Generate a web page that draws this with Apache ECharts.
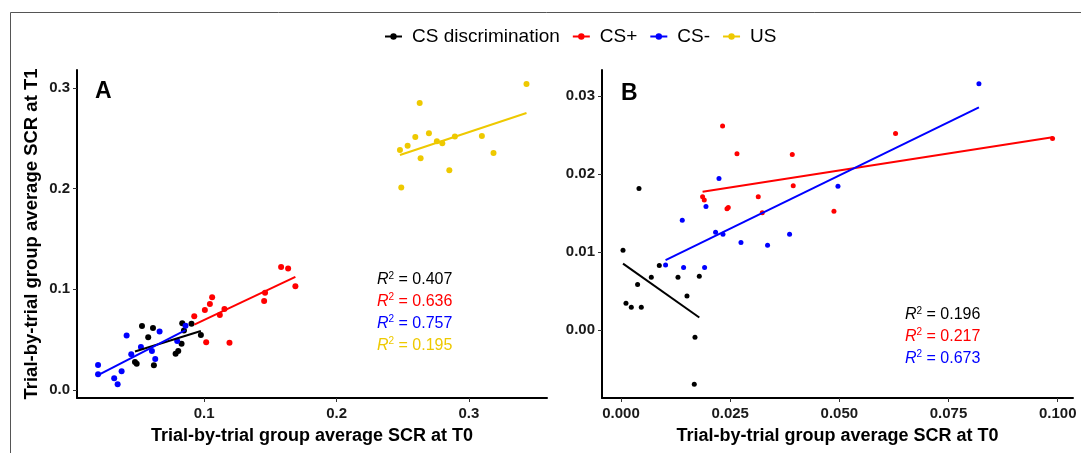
<!DOCTYPE html>
<html>
<head>
<meta charset="utf-8">
<script src="https://cdn.jsdelivr.net/npm/echarts@6/dist/echarts.min.js"></script>
<style>
  html, body { margin: 0; padding: 0; background: #fff; }
  #chart { width: 1081px; height: 453px; }
</style>
</head>
<body>
<div id="chart"></div>
<script>
// group names and colours
const groups = ['CS discrimination', 'CS+', 'CS-', 'US']
const colors = ['#000000', '#ff0000', '#0000ff', '#eec900']

// panel A: [T0, T1]
const aDisc = [[0.0477, 0.0278], [0.049, 0.026], [0.053, 0.0636], [0.0577, 0.0524], [0.0613, 0.0616], [0.062, 0.0245],
  [0.0784, 0.0361], [0.0804, 0.0388], [0.0829, 0.046], [0.0834, 0.0663], [0.0847, 0.059], [0.0904, 0.0659], [0.0975, 0.0547]]
const aPlus = [[0.0925, 0.0732], [0.1005, 0.0795], [0.1015, 0.0474], [0.1043, 0.0855], [0.106, 0.0921], [0.1118, 0.0746],
  [0.1153, 0.0805], [0.1191, 0.047], [0.1453, 0.0885], [0.146, 0.0967], [0.1581, 0.1223], [0.1634, 0.1206], [0.1689, 0.1031]]
const aMinus = [[0.0198, 0.0249], [0.0198, 0.0156], [0.032, 0.0116], [0.0346, 0.0057], [0.0376, 0.0186], [0.0414, 0.054],
  [0.0449, 0.0355], [0.0522, 0.0427], [0.0605, 0.0388], [0.063, 0.0308], [0.0663, 0.058], [0.0796, 0.0487], [0.0859, 0.0639]]
const aUS = [[0.3435, 0.3042], [0.2628, 0.2853], [0.2479, 0.2386], [0.2537, 0.2428], [0.2595, 0.2515], [0.2698, 0.2551],
  [0.2635, 0.2303], [0.2758, 0.2472], [0.2799, 0.2452], [0.2894, 0.2518], [0.2852, 0.2184], [0.2489, 0.2011],
  [0.3098, 0.2525], [0.3186, 0.2356]]

// panel B: [T0, T1]
const bDisc = [[0.00046, 0.01022], [0.00114, 0.00342], [0.00236, 0.00291], [0.0038, 0.00581], [0.00412, 0.01812],
  [0.00465, 0.00291], [0.00694, 0.00675], [0.00877, 0.00825], [0.01305, 0.00675], [0.01511, 0.00436],
  [0.01793, 0.00688], [0.01694, -0.00094], [0.01678, -0.00696]]
const bPlus = [[0.01868, 0.01705], [0.01907, 0.01663], [0.02326, 0.02611], [0.02427, 0.01551], [0.02456, 0.01568],
  [0.02656, 0.02256], [0.03143, 0.01705], [0.03235, 0.015], [0.03922, 0.02248], [0.03944, 0.01846],
  [0.04876, 0.01522], [0.06287, 0.02517], [0.09881, 0.02453]]
const bMinus = [[0.01021, 0.00833], [0.01403, 0.01406], [0.01433, 0.00799], [0.01914, 0.00799], [0.01946, 0.01581],
  [0.02166, 0.01252], [0.02244, 0.0194], [0.02335, 0.01227], [0.02747, 0.01119], [0.03356, 0.01086],
  [0.0386, 0.01227], [0.04968, 0.01842], [0.08196, 0.03154]]

// tick labels
const aXTicks = [0.1, 0.2, 0.3]
const aYTicks = [0.0, 0.1, 0.2, 0.3]
const bXTicks = [0, 0.025, 0.05, 0.075, 0.1]
const bYTicks = [0, 0.01, 0.02, 0.03]

const r2A = ['0.407', '0.636', '0.757', '0.195']
const r2B = ['0.196', '0.217', '0.673']

const FONT = 'Liberation Sans, Arial, sans-serif'

// least squares line over the data's x range
const fitLine = (pts) => {
  const n = pts.length
  let sx = 0, sy = 0, sxx = 0, sxy = 0
  pts.forEach(([x, y]) => { sx += x; sy += y; sxx += x * x; sxy += x * y })
  const b = (n * sxy - sx * sy) / (n * sxx - sx * sx)
  const a = (sy - b * sx) / n
  const xs = pts.map(p => p[0])
  const x0 = Math.min(...xs), x1 = Math.max(...xs)
  return [[x0, a + b * x0], [x1, a + b * x1]]
}

const panelA = [aDisc, aPlus, aMinus, aUS]
const panelB = [bDisc, bPlus, bMinus]

const series = []
panelA.forEach((pts, i) => {
  series.push({
    name: groups[i], type: 'line', xAxisIndex: 0, yAxisIndex: 0, z: 4,
    data: fitLine(pts), symbol: 'circle', showSymbol: false, silent: true,
    lineStyle: { color: colors[i], width: 2 }, itemStyle: { color: colors[i] }
  })
})
panelB.forEach((pts, i) => {
  series.push({
    name: groups[i], type: 'line', xAxisIndex: 1, yAxisIndex: 1, z: 4,
    data: fitLine(pts), symbol: 'circle', showSymbol: false, silent: true,
    lineStyle: { color: colors[i], width: 2 }, itemStyle: { color: colors[i] }
  })
})
panelA.forEach((pts, i) => {
  series.push({
    name: groups[i], type: 'scatter', xAxisIndex: 0, yAxisIndex: 0, z: 2,
    data: pts, symbolSize: 6, itemStyle: { color: colors[i], opacity: 1 }
  })
})
panelB.forEach((pts, i) => {
  series.push({
    name: groups[i], type: 'scatter', xAxisIndex: 1, yAxisIndex: 1, z: 2,
    data: pts, symbolSize: 5, itemStyle: { color: colors[i], opacity: 1 }
  })
})

const axisCommon = {
  type: 'value',
  splitLine: { show: false },
  axisLine: { show: true, onZero: false, lineStyle: { color: '#000', width: 2 } },
  axisTick: { show: true, length: 4, lineStyle: { color: '#333', width: 1 } },
  axisLabel: { color: '#1a1a1a', fontWeight: 'bold', fontSize: 15, fontFamily: FONT },
  nameTextStyle: { color: '#000', fontWeight: 'bold', fontSize: 18, fontFamily: FONT },
  nameLocation: 'middle'
}

const makeAxis = (min, max, ticks, digits, extra) => ({
  ...axisCommon,
  min, max,
  axisTick: { ...axisCommon.axisTick, customValues: ticks },
  axisLabel: { ...axisCommon.axisLabel, customValues: ticks, formatter: v => v.toFixed(digits) },
  ...extra
})

const r2Text = (vals, x, y0) => vals.map((v, i) => ({
  type: 'text', left: x, top: y0 + i * 21.7,
  style: {
    text: '{i|R}{s|2}{n| = ' + v + '}',
    fill: colors[i],
    font: '16px ' + FONT,
    rich: {
      i: { fontStyle: 'italic', fontSize: 16, fontFamily: FONT, fill: colors[i] },
      s: { fontSize: 10, fontFamily: FONT, verticalAlign: 'top', padding: [0, 0, 8, 0], fill: colors[i] },
      n: { fontSize: 16, fontFamily: FONT, fill: colors[i] }
    }
  }
}))

const chart = echarts.init(document.getElementById('chart'), null, { renderer: 'canvas' })
chart.setOption({
  backgroundColor: '#fff',
  animation: false,
  legend: {
    data: groups, top: 22, left: 379, itemWidth: 17, itemHeight: 8, itemGap: 12,
    textStyle: { fontSize: 19, color: '#000', fontFamily: FONT, padding: [0, 0, 0, 5] }
  },
  grid: [
    { left: 77, top: 70, width: 470, height: 328 },
    { left: 602, top: 70, width: 471, height: 328 }
  ],
  xAxis: [
    makeAxis(0.0039, 0.359, aXTicks, 1, { gridIndex: 0, name: 'Trial-by-trial group average SCR at T0', nameGap: 29,
      axisLabel: { ...axisCommon.axisLabel, customValues: aXTicks, margin: 8, formatter: v => v.toFixed(1) } }),
    makeAxis(-0.00435, 0.1035, bXTicks, 3, { gridIndex: 1, name: 'Trial-by-trial group average SCR at T0', nameGap: 29,
      axisLabel: { ...axisCommon.axisLabel, customValues: bXTicks, margin: 8, formatter: v => v.toFixed(3) } })
  ],
  yAxis: [
    makeAxis(-0.008, 0.318, aYTicks, 1, { gridIndex: 0, name: 'Trial-by-trial group average SCR at T1', nameGap: 36,
      nameTextStyle: { ...axisCommon.nameTextStyle, fontSize: 18.5 },
      axisLabel: { ...axisCommon.axisLabel, customValues: aYTicks, margin: 7, formatter: v => v.toFixed(1) } }),
    makeAxis(-0.00872, 0.0333, bYTicks, 2, { gridIndex: 1,
      axisLabel: { ...axisCommon.axisLabel, customValues: bYTicks, margin: 7, formatter: v => v.toFixed(2) } })
  ],
  graphic: [
    { type: 'rect', shape: { x: 10.5, y: 12.5, width: 1200, height: 600 }, style: { fill: 'none', stroke: '#555', lineWidth: 1 }, silent: true },
    { type: 'text', left: 95, top: 80, style: { text: 'A', font: 'bold 23px ' + FONT, fill: '#000' } },
    { type: 'text', left: 621, top: 82, style: { text: 'B', font: 'bold 23px ' + FONT, fill: '#000' } },
    ...r2Text(r2A, 377, 271),
    ...r2Text(r2B, 905, 306)
  ],
  series
})
</script>
</body>
</html>
